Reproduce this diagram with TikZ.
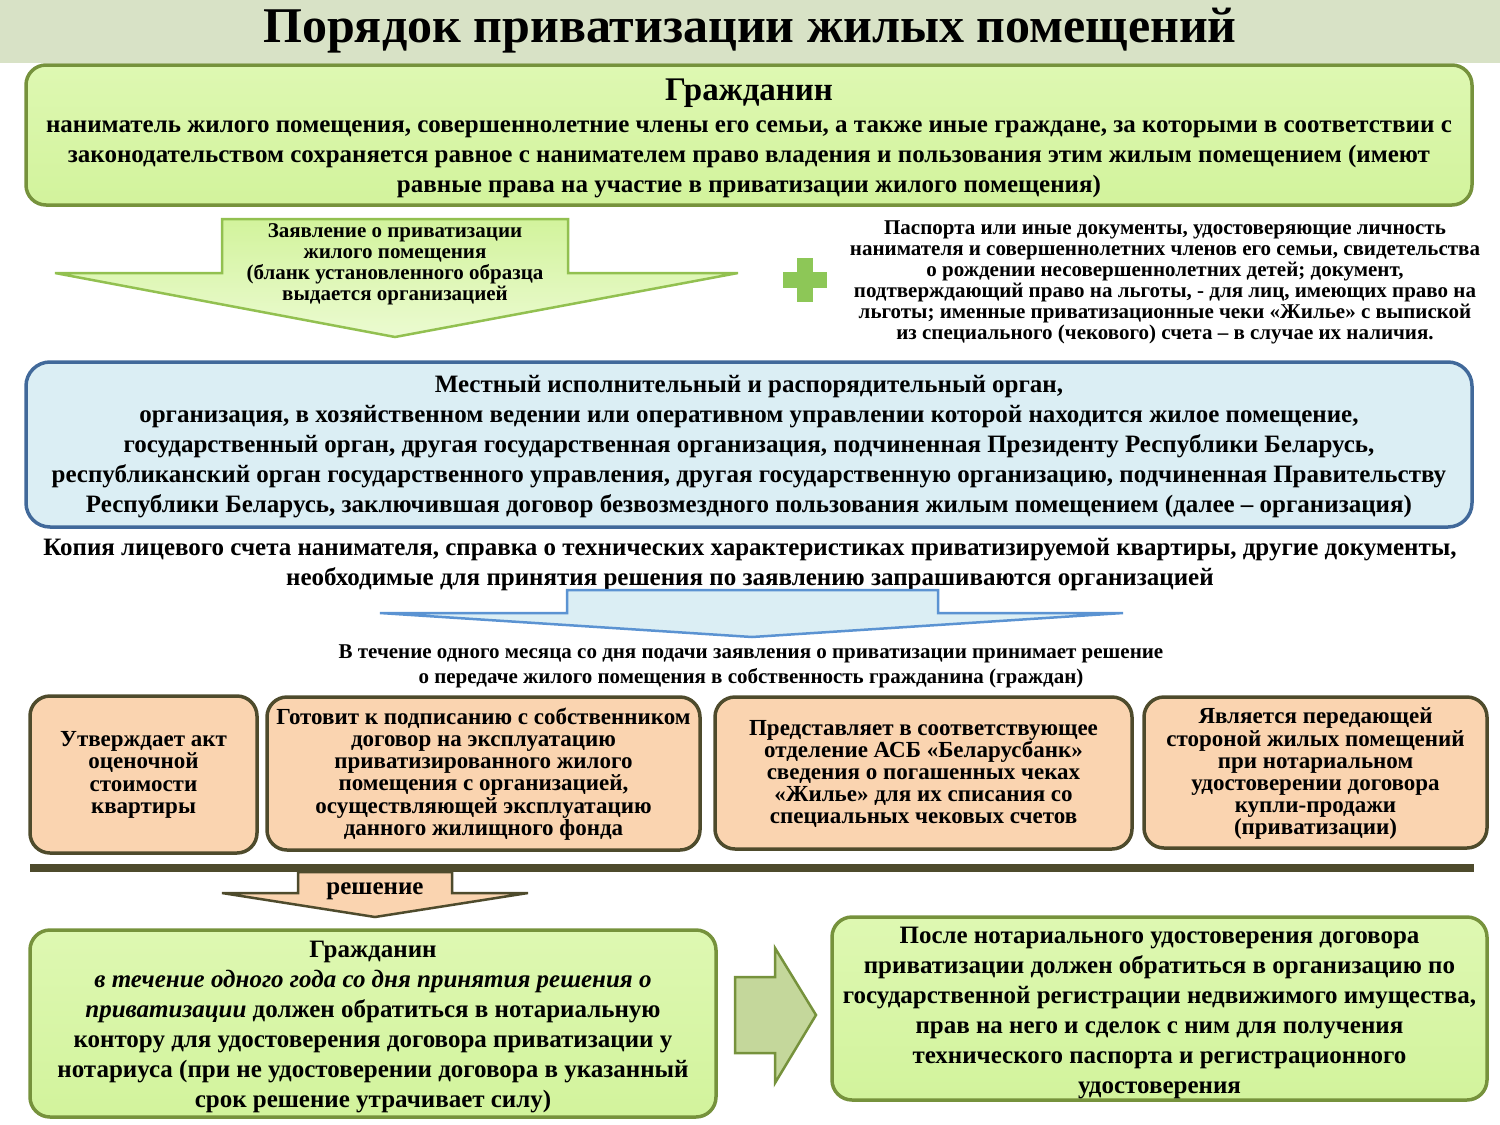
\documentclass[tikz,border=0pt]{standalone}
\usepackage{fontspec}
\setmainfont{Liberation Serif}
\definecolor{titlebg}{HTML}{D8E2C6}
\definecolor{lgreen}{HTML}{DEF8B2}
\definecolor{lgreenB}{HTML}{D2F39C}
\definecolor{dgreen}{HTML}{76923C}
\definecolor{lblue}{HTML}{DBEEF4}
\definecolor{dblue}{HTML}{41699A}
\definecolor{mblue}{HTML}{5B93D2}
\definecolor{agreen}{HTML}{92C050}
\definecolor{plusgreen}{HTML}{8DC757}
\definecolor{peach}{HTML}{FAD4B0}
\definecolor{dbrown}{HTML}{4E4B2C}
\definecolor{olive}{HTML}{C4D79B}
\tikzset{
  txt/.style={align=center, inner sep=0pt, font=\bfseries\fontsize{25}{30}\selectfont},
  smalltxt/.style={align=center, inner sep=0pt, font=\bfseries\fontsize{21}{21}\selectfont},
  midtxt/.style={align=center, inner sep=0pt, font=\bfseries\fontsize{23}{22.2}\selectfont},
  greenbox/.style={draw=dgreen, line width=3.5pt, top color=lgreen, bottom color=lgreenB, rounded corners=20pt, inner sep=0pt},
  bluebox/.style={draw=dblue, line width=3.5pt, fill=lblue, rounded corners=24pt, inner sep=0pt},
  peachbox/.style={draw=dbrown, line width=3.5pt, fill=peach, rounded corners=20pt, inner sep=0pt},
}
\begin{document}
\begin{tikzpicture}[x=1pt,y=-1pt]
\useasboundingbox (0,0) rectangle (1500,1125);
% title bar
\fill[titlebg] (0,0) rectangle (1500,63);
\node[inner sep=0pt, font=\bfseries\fontsize{50}{55}\selectfont] (title) at (750,31) {Порядок приватизации жилых помещений};
% box 1
\node[greenbox, minimum width=1446pt, minimum height=140pt] (cit) at (749,135) {};
\node[inner sep=0pt, font=\bfseries\fontsize{33}{36}\selectfont] (citT) at (749,93) {Гражданин};
\node[txt] (citB) at (749,159) {наниматель жилого помещения, совершеннолетние члены его семьи, а также иные граждане, за которыми в соответствии с\\законодательством сохраняется равное с нанимателем право владения и пользования этим жилым помещением (имеют\\равные права на участие в приватизации жилого помещения)};
% arrow 1
\path[draw=agreen, line width=2.5pt, top color=lgreenB, bottom color=lgreen!60!white]
  (222,219) -- (568,219) -- (568,273) -- (738,273) -- (395,337) -- (55,273) -- (222,273) -- cycle;
\node[smalltxt] (appl) at (395,264) {Заявление о приватизации\\жилого помещения\\(бланк установленного образца\\выдается организацией};
% plus
\fill[plusgreen] (783,272) rectangle (827,288);
\fill[plusgreen] (797,258) rectangle (813,302);
\node[smalltxt] (docs) at (1165,282.5) {Паспорта или иные документы, удостоверяющие личность\\нанимателя и совершеннолетних членов его семьи, свидетельства\\о рождении несовершеннолетних детей; документ,\\подтверждающий право на льготы, - для лиц, имеющих право на\\льготы; именные приватизационные чеки «Жилье» с выпиской\\из специального (чекового) счета – в случае их наличия.};
% blue box
\node[bluebox, minimum width=1446pt, minimum height=165pt] (org) at (749,444.5) {};
\node[txt] (orgT) at (749,447) {Местный исполнительный и распорядительный орган,\\организация, в хозяйственном ведении или оперативном управлении которой находится жилое помещение,\\государственный орган, другая государственная организация, подчиненная Президенту Республики Беларусь,\\республиканский орган государственного управления, другая государственную организацию, подчиненная Правительству\\Республики Беларусь, заключившая договор безвозмездного пользования жилым помещением (далее – организация)};
\node[txt] (copy) at (750,565) {Копия лицевого счета нанимателя, справка о технических характеристиках приватизируемой квартиры, другие документы,\\необходимые для принятия решения по заявлению запрашиваются организацией};
% blue arrow
\path[draw=mblue, line width=2.5pt, fill=lblue]
  (567,590) -- (938,590) -- (938,613) -- (1123,613) -- (752,637) -- (380,613) -- (567,613) -- cycle;
\node[align=center, inner sep=0pt, font=\bfseries\fontsize{21}{25}\selectfont] (month) at (751,666) {В течение одного месяца со дня подачи заявления о приватизации принимает решение\\о передаче жилого помещения в собственность гражданина (граждан)};
% peach boxes
\node[peachbox, minimum width=227pt, minimum height=157pt] (pA) at (143.5,774.5) {};
\node[midtxt] (pAt) at (143.5,775) {Утверждает акт\\оценочной\\стоимости\\квартиры};
\node[peachbox, minimum width=433pt, minimum height=153pt] (pB) at (483.5,773.5) {};
\node[midtxt] (pBt) at (483.5,774) {Готовит к подписанию с собственником\\договор на эксплуатацию\\приватизированного жилого\\помещения с организацией,\\осуществляющей эксплуатацию\\данного жилищного фонда};
\node[peachbox, minimum width=417pt, minimum height=152pt] (pC) at (923.5,773) {};
\node[midtxt] (pCt) at (923.5,774) {Представляет в соответствующее\\отделение АСБ «Беларусбанк»\\сведения о погашенных чеках\\«Жилье» для их списания со\\специальных чековых счетов};
\node[peachbox, minimum width=343pt, minimum height=151pt] (pD) at (1315.5,772.5) {};
\node[midtxt] (pDt) at (1315.5,774) {Является передающей\\стороной жилых помещений\\при нотариальном\\удостоверении договора\\купли-продажи\\(приватизации)};
% thick line
\draw[dbrown, line width=8pt] (30,868) -- (1474,868);
% decision arrow
\path[draw=dbrown, line width=2.5pt, fill=peach]
  (298,872) -- (452,872) -- (452,893) -- (528,893) -- (375,917) -- (222,893) -- (298,893) -- cycle;
\node[inner sep=0pt, font=\bfseries\fontsize{25}{27}\selectfont] (dec) at (375,891) {решение};
% bottom left box
\node[greenbox, minimum width=686pt, minimum height=187pt] (cit2) at (373,1023.5) {};
\node[txt] (cit2t) at (373,1027) {Гражданин\\\textit{в течение одного года со дня принятия решения о}\\\textit{приватизации} должен обратиться в нотариальную\\контору для удостоверения договора приватизации у\\нотариуса (при не удостоверении договора в указанный\\срок решение утрачивает силу)};
% right arrow
\path[draw=dgreen, line width=2.5pt, fill=olive]
  (735,977) -- (775,977) -- (775,948) -- (816,1015) -- (775,1083) -- (775,1053) -- (735,1053) -- cycle;
% bottom right box
\node[greenbox, minimum width=655pt, minimum height=183pt] (reg) at (1159.5,1008.5) {};
\node[txt] (regt) at (1159.5,1013) {После нотариального удостоверения договора\\приватизации должен обратиться в организацию по\\государственной регистрации недвижимого имущества,\\прав на него и сделок с ним для получения\\технического паспорта и регистрационного\\удостоверения};
\end{tikzpicture}
\end{document}
